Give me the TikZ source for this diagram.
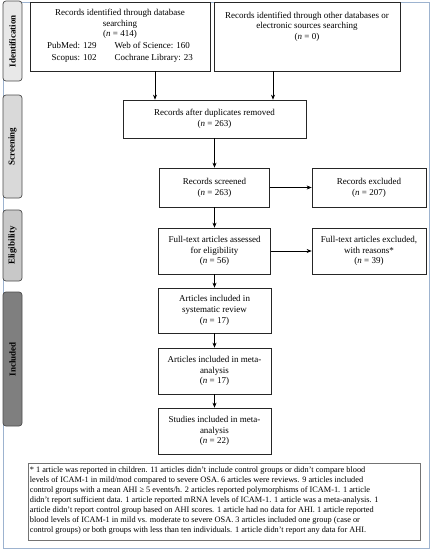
\documentclass[tikz,border=0pt]{standalone}
\usepackage{fontspec}
\setmainfont{Liberation Serif}
\usetikzlibrary{arrows.meta}
\definecolor{framecol}{HTML}{9DB3CF}
\definecolor{phaseA}{HTML}{E8E8E8}
\definecolor{phaseB}{HTML}{D9D9D9}
\definecolor{phaseC}{HTML}{C8C8C8}
\definecolor{phaseD}{HTML}{7F7F7F}
\begin{document}
\begin{tikzpicture}[x=1pt,y=-1pt,
  box/.style={draw=black!85,line width=0.7pt,rectangle,inner sep=0pt,align=center,
    font=\fontsize{9}{10.8}\selectfont},
  txt/.style={inner sep=0pt,align=center,font=\fontsize{9}{10.8}\selectfont},
  phase/.style={draw=black!70,line width=0.7pt,rounded corners=3pt,inner sep=0pt,
    minimum width=19pt,text=black,font=\fontsize{9}{10}\selectfont\bfseries},
  arr/.style={-{Stealth[length=5pt,width=4pt]},line width=0.6pt,black}]
\useasboundingbox (0,0) rectangle (433,550);
\draw[framecol,line width=0.8pt] (3,2) rectangle (429,548);

% phase labels
\node[phase,fill=phaseA,minimum height=80pt] (pid) at (12.5,41) {\rotatebox{90}{Identification}};
\node[phase,fill=phaseB,minimum height=103pt] (psc) at (12.5,146.5) {\rotatebox{90}{Screening}};
\node[phase,fill=phaseC,minimum height=71pt] (pel) at (12.5,245.5) {\rotatebox{90}{Eligibility}};
\node[phase,fill=phaseD,minimum height=134pt] (pin) at (12.5,359) {\rotatebox{90}{Included}};

% boxes
\node[box,minimum width=180pt,minimum height=69pt] (b1) at (120,36.5)
  {Records identified through database\\searching\\(\textit{n} = 414)\\[1pt]
   \begin{tabular}{@{}r@{\hspace{18pt}}l@{}}PubMed: 129 & Web of Science: 160\\[1.5pt] Scopus: 102 & Cochrane Library: 23\end{tabular}};
\node[box,minimum width=186pt,minimum height=69pt] (b2) at (307,36.5) {};
\node[txt,anchor=north] (b2t) at ([yshift=-10pt]b2.north)
  {Records identified through other databases or\\electronic sources searching\\(\textit{n} = 0)};
\node[box,minimum width=183pt,minimum height=38pt] (b3) at (214.5,119)
  {Records after duplicates removed\\(\textit{n} = 263)};
\node[box,minimum width=110pt,minimum height=39pt] (b4) at (214.5,187.5)
  {Records screened\\(\textit{n} = 263)};
\node[box,minimum width=114pt,minimum height=39pt] (b5) at (369,187.5)
  {Records excluded\\(\textit{n} = 207)};
\node[box,minimum width=112pt,minimum height=46pt] (b6) at (214.5,251)
  {Full-text articles assessed\\for eligibility\\(\textit{n} = 56)};
\node[box,minimum width=114pt,minimum height=46pt] (b7) at (369,251)
  {Full-text articles excluded,\\with reasons*\\(\textit{n} = 39)};
\node[box,minimum width=113pt,minimum height=45pt] (b8) at (214.5,310.5)
  {Articles included in\\systematic review\\(\textit{n} = 17)};
\node[box,minimum width=113pt,minimum height=46pt] (b9) at (214.5,371)
  {Articles included in meta-\\analysis\\(\textit{n} = 17)};
\node[box,minimum width=113pt,minimum height=46pt] (b10) at (214.5,431)
  {Studies included in meta-\\analysis\\(\textit{n} = 22)};

% footnote
\node[draw=black!55,line width=0.7pt,inner sep=0pt,minimum width=392pt,minimum height=77pt] (fn) at (224,501.5) {};
\node[inner sep=0pt,anchor=north west,align=left,font=\fontsize{8.3}{10}\selectfont] (fnt) at ([xshift=2pt,yshift=-4pt]fn.north west)
  {* 1 article was reported in children. 11 articles didn’t include control groups or didn’t compare blood\\
   levels of ICAM-1 in mild/mod compared to severe OSA. 6 articles were reviews. 9 articles included\\
   control groups with a mean AHI ≥ 5 events/h. 2 articles reported polymorphisms of ICAM-1. 1 article\\
   didn’t report sufficient data. 1 article reported mRNA levels of ICAM-1. 1 article was a meta-analysis. 1\\
   article didn’t report control group based on AHI scores. 1 article had no data for AHI. 1 article reported\\
   blood levels of ICAM-1 in mild vs. moderate to severe OSA. 3 articles included one group (case or\\
   control groups) or both groups with less than ten individuals. 1 article didn’t report any data for AHI.};

% arrows
\draw[arr] ([xshift=35pt]b1.south) -- ([xshift=35pt]b1.south |- b3.north);
\draw[arr] ([xshift=-34pt]b2.south) -- ([xshift=-34pt]b2.south |- b3.north);
\draw[arr] (b3) -- (b4);
\draw[arr] (b4) -- (b5);
\draw[arr] (b4) -- (b6);
\draw[arr] (b6) -- (b7);
\draw[arr] (b6) -- (b8);
\draw[arr] (b8) -- (b9);
\draw[arr] (b9) -- (b10);
\end{tikzpicture}
\end{document}
